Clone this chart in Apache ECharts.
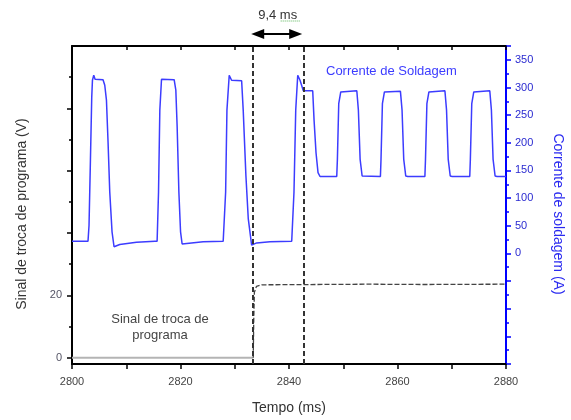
<!DOCTYPE html>
<html>
<head>
<meta charset="utf-8">
<script src="https://cdn.jsdelivr.net/npm/echarts@6/dist/echarts.min.js"></script>
<style>
  html, body { margin: 0; padding: 0; background: #fff; }
  .chart1 { width: 571px; height: 420px; }
</style>
</head>
<body>
<div class="chart1"></div>
<script>
// tempo (ms) e corrente (A)
var timeCur = [2800, 2802.95, 2803.14, 2803.40, 2803.64, 2803.77, 2804.01, 2804.25, 2805.72, 2806.04, 2806.35, 2806.65, 2806.96, 2807.38, 2807.75, 2808.80, 2811.89, 2815.27,
    2815.69, 2815.95, 2816.19, 2816.50, 2818.83, 2819.14, 2819.38, 2819.70, 2820.01, 2820.30, 2824.18, 2827.87,
    2828.06, 2828.32, 2828.56, 2828.98, 2829.42, 2831.27, 2831.56, 2832.06, 2832.49, 2833.11, 2834.04, 2836.49, 2840.50,
    2840.68, 2840.92, 2841.24, 2841.61, 2842.03, 2842.64, 2844.37, 2844.62, 2844.98, 2845.35, 2845.72,
    2848.80, 2848.92, 2849.17, 2849.54, 2852.50, 2852.79, 2853.11, 2853.48, 2853.84,
    2856.85, 2856.96, 2857.22, 2857.59, 2860.54, 2860.84, 2861.15, 2861.52, 2861.89,
    2865.05, 2865.16, 2865.42, 2865.79, 2868.74, 2869.04, 2869.35, 2869.72, 2870.09,
    2873.32, 2873.43, 2873.69, 2874.06, 2877.01, 2877.31, 2877.62, 2877.99, 2878.36, 2880];
var ampCur = [22, 22, 51, 170, 283, 313, 322, 315, 314, 304, 277, 200, 111, 39, 12, 16, 20, 22,
    22, 111, 259, 315, 314, 295, 230, 111, 39, 17, 21, 22,
    22, 111, 259, 322, 313, 312, 259, 140, 63, 15, 19, 21, 22,
    22, 111, 259, 322, 313, 294, 294, 241, 182, 146, 139,
    139, 170, 271, 292, 294, 259, 170, 140, 139,
    139, 170, 271, 292, 293, 259, 170, 140, 139,
    139, 170, 271, 292, 294, 259, 170, 140, 139,
    139, 170, 271, 292, 294, 259, 170, 140, 139, 139];

// sinal de troca de programa (V)
var progLowT = [2800, 2833.41];
var progLowV = [0, 0];
var progHighT = [2833.41, 2833.5, 2833.62, 2834.0, 2835.0, 2845, 2855, 2865, 2880];
var progHighV = [0, 12, 21, 22.9, 23.4, 23.5, 23.6, 23.5, 23.6];

// instantes das linhas tracejadas (9,4 ms)
var gapTimes = [2833.4, 2842.8];

var xTicks = [2800, 2820, 2840, 2860, 2880];
var leftMajor = [0, 20, 40, 60, 80];
var leftMinor = [10, 30, 50, 70, 90];
var leftLabels = [0, 20];

function zip(a, b) {
    var out = [];
    for (var i = 0; i < a.length; i++) out.push([a[i], b[i]]);
    return out;
}

var font = "'Liberation Sans', Arial, sans-serif";
var myChart1;
function initChart1() {
    var chartDom = document.querySelector('.chart1');
    myChart1 = echarts.init(chartDom);
    var option;

    option = {
        animation: false,
        grid: { left: 72, right: 65, top: 46, bottom: 54 },
        xAxis: [
            {
                type: 'value',
                min: 2800, max: 2880, interval: 10,
                name: 'Tempo (ms)',
                nameLocation: 'middle',
                nameGap: 37,
                nameTextStyle: { color: '#333', fontSize: 14, fontFamily: font },
                axisLine: { onZero: false, lineStyle: { color: '#000', width: 2 } },
                axisTick: { length: 5, lineStyle: { color: '#000', width: 1.5 } },
                axisLabel: {
                    color: '#444', fontSize: 11, fontFamily: font, margin: 12,
                    formatter: function (v) { return xTicks.indexOf(v) >= 0 ? String(v) : ''; }
                },
                splitLine: { show: false }
            },
            {
                type: 'value', position: 'top',
                min: 2800, max: 2880, interval: 10,
                axisLine: { onZero: false, lineStyle: { color: '#000', width: 2 } },
                axisTick: { inside: true, length: 4, lineStyle: { color: '#000', width: 1.5 } },
                axisLabel: { show: false },
                splitLine: { show: false }
            }
        ],
        yAxis: [
            {
                type: 'value', position: 'left',
                min: -2, max: 100,
                axisLine: { show: true, onZero: false, lineStyle: { color: '#000', width: 2 } },
                axisTick: { show: true, length: 5, customValues: leftMajor, lineStyle: { color: '#000', width: 1.5 } },
                axisLabel: { color: '#556', fontSize: 11, fontFamily: font, margin: 10, customValues: leftLabels },
                splitLine: { show: false }
            },
            {
                type: 'value', position: 'right',
                min: -200, max: 375, interval: 50,
                axisLine: { show: true, onZero: false, lineStyle: { color: '#0000ff', width: 2 } },
                axisTick: { show: true, length: 5, lineStyle: { color: '#0000ff', width: 1.5 } },
                minorTick: { show: true, splitNumber: 2, length: 3, lineStyle: { color: '#0000ff', width: 1.5 } },
                axisLabel: {
                    color: '#2a2ad0', fontSize: 11, fontFamily: font, margin: 9,
                    formatter: function (v) { return v >= 0 && v <= 350 ? String(v) : ''; }
                },
                splitLine: { show: false }
            },
            {
                type: 'value', position: 'left',
                min: -2, max: 100,
                axisLine: { show: false, onZero: false },
                axisTick: { show: true, length: 3, customValues: leftMinor, lineStyle: { color: '#000', width: 1.5 } },
                axisLabel: { show: false },
                splitLine: { show: false }
            }
        ],
        series: [
            {
                name: 'Sinal baixo',
                type: 'line',
                yAxisIndex: 0,
                showSymbol: false,
                data: zip(progLowT, progLowV),
                lineStyle: { color: '#b4b4b4', width: 2 }
            },
            {
                name: 'Sinal de troca de programa',
                type: 'line',
                yAxisIndex: 0,
                showSymbol: false,
                data: zip(progHighT, progHighV),
                lineStyle: { color: '#444', width: 1.3, type: [5, 2] },
                markLine: {
                    silent: true,
                    symbol: ['none', 'none'],
                    label: { show: false },
                    lineStyle: { color: '#333', width: 2, type: [5, 3] },
                    data: gapTimes.map(function (t) { return { xAxis: t }; })
                }
            },
            {
                name: 'Corrente de Soldagem',
                type: 'line',
                yAxisIndex: 1,
                showSymbol: false,
                data: zip(timeCur, ampCur),
                lineStyle: { color: '#3c3cff', width: 1.5 }
            }
        ]
    };

    option && myChart1.setOption(option);

    var xa = myChart1.convertToPixel({ xAxisIndex: 0 }, gapTimes[0]);
    var xb = myChart1.convertToPixel({ xAxisIndex: 0 }, gapTimes[1]);
    var ay = 34;
    myChart1.setOption({
        graphic: [
            { type: 'line', shape: { x1: xa + 8, y1: ay, x2: xb - 10, y2: ay }, style: { stroke: '#000', lineWidth: 2 } },
            { type: 'polygon', shape: { points: [[xa - 2, ay], [xa + 11, ay - 5], [xa + 11, ay + 5]] }, style: { fill: '#000' } },
            { type: 'polygon', shape: { points: [[xb - 2, ay], [xb - 15, ay - 5], [xb - 15, ay + 5]] }, style: { fill: '#000' } },
            { type: 'text', x: (xa + xb) / 2 - 1, y: 15, style: { text: '9,4 ms', fill: '#333', font: '13px ' + font, align: 'center', verticalAlign: 'middle' } },
            { type: 'line', shape: { x1: (xa + xb) / 2 + 2, y1: 21, x2: (xa + xb) / 2 + 22, y2: 21 }, style: { stroke: '#5cb85c', lineWidth: 1, lineDash: [1, 1] } },
            { type: 'text', x: 326, y: 71, style: { text: 'Corrente de Soldagem', fill: '#3c3cff', font: '13px ' + font, align: 'left', verticalAlign: 'middle' } },
            { type: 'text', x: 160, y: 327, style: { text: 'Sinal de troca de\nprograma', fill: '#444', font: '13px ' + font, align: 'center', verticalAlign: 'middle', lineHeight: 16 } },
            { type: 'text', x: 22, y: 214, rotation: Math.PI / 2, style: { text: 'Sinal de troca de programa (V)', fill: '#333', font: '14px ' + font, align: 'center', verticalAlign: 'middle' } },
            { type: 'text', x: 558, y: 214, rotation: -Math.PI / 2, style: { text: 'Corrente de soldagem (A)', fill: '#2a2af0', font: '14px ' + font, align: 'center', verticalAlign: 'middle' } }
        ]
    });
}

document.addEventListener('DOMContentLoaded', function () {
    initChart1();
});

window.addEventListener('resize', () => {
    myChart1.resize();
});
</script>
</body>
</html>
